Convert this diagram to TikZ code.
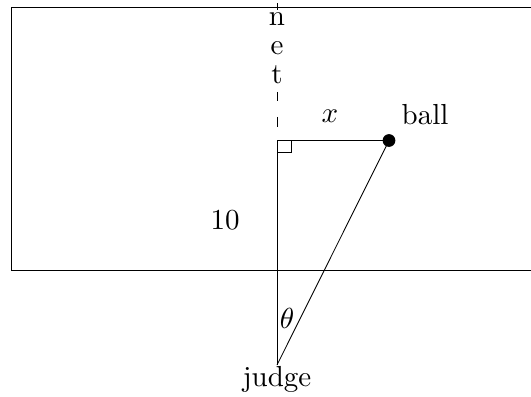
\documentclass[tikz,border=0pt]{standalone}
\usetikzlibrary{calc}
\begin{document}
\begin{tikzpicture}[x=0.345pt,y=-0.345pt,
  lbl/.style={inner sep=0pt},
  ln/.style={line width=0.3pt}]
\useasboundingbox (0,0) rectangle (531,396);
\begin{scope}
\clip (0,0) rectangle (531,396);
\draw[ln] (600,7.5) -- (11,7.5) -- (11,270) -- (600,270);
\end{scope}
\coordinate (top) at (277,3);
\coordinate (corner) at (277,140.5);
\coordinate (judge) at (277,365);
\node[circle,fill=black,inner sep=0pt,minimum size=4.4pt] (ball) at (389,140.5) {};
% net
\draw[ln,dash pattern=on 2.4pt off 28.3pt on 3.1pt off 5.5pt on 3.45pt off 14pt] (top) -- (corner);
\node[lbl] (n) at (277,19) {n};
\node[lbl] (e) at (277,48) {e};
\node[lbl] (t) at (277,75) {t};
% lines
\draw[ln] (corner) -- (ball.center);
\draw[ln] (corner) -- (judge);
\draw[ln] (judge) -- (ball.center);
\draw[ln] ($(corner)+(0,12)$) -- ++(14,0) -- ++(0,-12);
% labels
\node[lbl] (xl) at (330,116) {$x$};
\node[lbl] (bl) at (425,115) {ball};
\node[lbl] (ten) at (225,220) {10};
\node[lbl] (th) at (287,318) {$\theta$};
\node[lbl] (jl) at (277,379) {judge};
\end{tikzpicture}
\end{document}
